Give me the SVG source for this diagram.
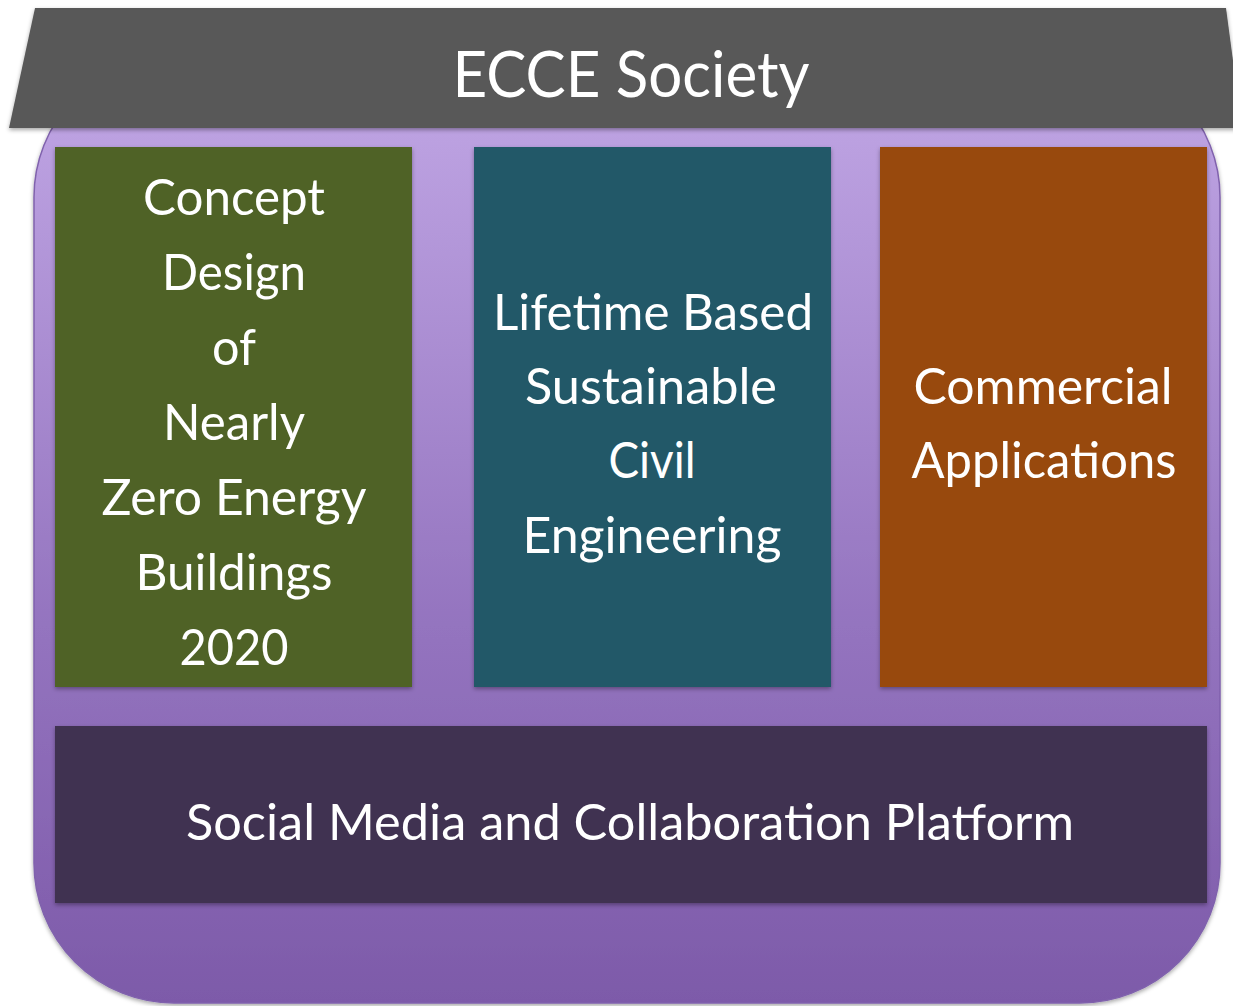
<svg xmlns="http://www.w3.org/2000/svg" width="1233" height="1006" viewBox="0 0 1233 1006">
<style>
  .lbl { font-family: Lato, "Open Sans", "Liberation Sans", sans-serif; fill: #ffffff; text-anchor: middle; }
  .body { font-size: 50px; }
  .title { font-size: 63px; }
</style>
<defs>
  <linearGradient id="purpleGrad" x1="0" y1="0" x2="0" y2="1">
    <stop offset="0" stop-color="#c2a8e6"/>
    <stop offset="0.6" stop-color="#9474bf"/>
    <stop offset="1" stop-color="#7d5aa9"/>
  </linearGradient>
  <filter id="shadow" x="-5%" y="-5%" width="110%" height="115%">
    <feDropShadow dx="0" dy="2" stdDeviation="2" flood-color="#000000" flood-opacity="0.35"/>
  </filter>
</defs>
<rect width="1233" height="1006" fill="#ffffff"/>
<g id="base">
  <rect x="34" y="57" width="1186" height="946" rx="140" ry="140" fill="url(#purpleGrad)" stroke="#8062ad" stroke-width="1.5" filter="url(#shadow)"/>
</g>
<g id="roof">
  <polygon points="35,8 1226,8 1242,128 9,128" fill="#595959" filter="url(#shadow)"/>
  <text class="lbl title" x="631" y="97" textLength="357" lengthAdjust="spacingAndGlyphs">ECCE Society</text>
</g>
<g id="node-nzeb">
  <rect x="55" y="147" width="357" height="540" fill="#4f6228" filter="url(#shadow)"/>
  <text class="lbl body" x="234" y="215" textLength="182" lengthAdjust="spacingAndGlyphs">Concept</text>
  <text class="lbl body" x="234" y="290" textLength="144" lengthAdjust="spacingAndGlyphs">Design</text>
  <text class="lbl body" x="234" y="365" textLength="44" lengthAdjust="spacingAndGlyphs">of</text>
  <text class="lbl body" x="234" y="440" textLength="142" lengthAdjust="spacingAndGlyphs">Nearly</text>
  <text class="lbl body" x="234" y="515" textLength="265" lengthAdjust="spacingAndGlyphs">Zero Energy</text>
  <text class="lbl body" x="234" y="590" textLength="197" lengthAdjust="spacingAndGlyphs">Buildings</text>
  <text class="lbl body" x="234" y="665" textLength="109" lengthAdjust="spacingAndGlyphs">2020</text>
</g>
<g id="node-civil">
  <rect x="474" y="147" width="357" height="540" fill="#215968" filter="url(#shadow)"/>
  <text class="lbl body" x="653" y="330" textLength="320" lengthAdjust="spacingAndGlyphs">Lifetime Based</text>
  <text class="lbl body" x="651" y="404" textLength="252" lengthAdjust="spacingAndGlyphs">Sustainable</text>
  <text class="lbl body" x="652" y="478" textLength="87" lengthAdjust="spacingAndGlyphs">Civil</text>
  <text class="lbl body" x="652" y="553" textLength="259" lengthAdjust="spacingAndGlyphs">Engineering</text>
</g>
<g id="node-commercial">
  <rect x="880" y="147" width="327" height="540" fill="#984807" filter="url(#shadow)"/>
  <text class="lbl body" x="1043" y="404" textLength="259" lengthAdjust="spacingAndGlyphs">Commercial</text>
  <text class="lbl body" x="1044" y="478" textLength="265" lengthAdjust="spacingAndGlyphs">Applications</text>
</g>
<g id="node-social">
  <rect x="55" y="726" width="1152" height="177" fill="#3f3151" filter="url(#shadow)"/>
  <text class="lbl body" x="630" y="840" textLength="888" lengthAdjust="spacingAndGlyphs">Social Media and Collaboration Platform</text>
</g>
<g id="connectors"></g>
</svg>
